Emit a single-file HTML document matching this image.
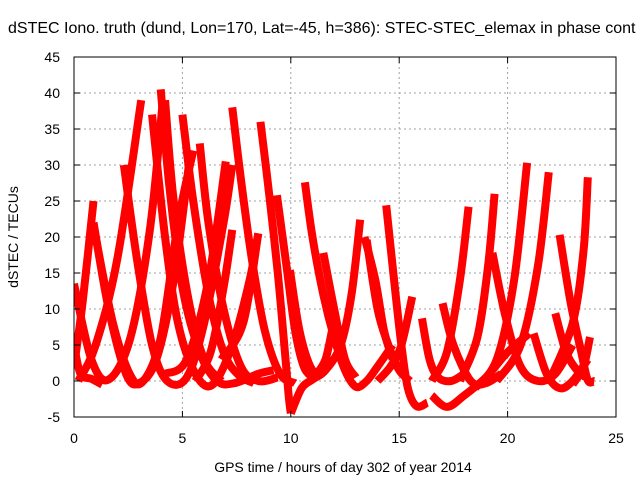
<!DOCTYPE html>
<html><head><meta charset="utf-8"><style>
html,body{margin:0;padding:0;background:#fff;}
svg{display:block;font-family:"Liberation Sans",sans-serif;}
</style></head><body>
<svg id="chart" width="640" height="480" viewBox="0 0 640 480">
<rect width="640" height="480" fill="#fff"/>
<text x="8" y="33" font-size="16" fill="#000">dSTEC Iono. truth (dund, Lon=170, Lat=-45, h=386): STEC-STEC_elemax in phase cont</text>
<g id="grid"></g>
<g id="series" clip-path="url(#clip)"></g>
<defs><clipPath id="clip"><rect x="74" y="57" width="542" height="360"/></clipPath></defs>
<rect x="74" y="57" width="542" height="360" fill="none" stroke="#000" stroke-width="1"/>
<g id="axes"></g>
<text x="343" y="472" font-size="14" text-anchor="middle">GPS time / hours of day 302 of year 2014</text>
<text transform="translate(18,237) rotate(-90)" font-size="14" text-anchor="middle">dSTEC  / TECUs</text>
</svg>
<script>
const xTicks=[0,5,10,15,20,25];
const yTicks=[-5,0,5,10,15,20,25,30,35,40,45];
const arcs=[
[[0,13.5],[0.8,3],[1.6,0.2],[2.6,6],[3.5,21],[4.1,39]],
[[0,5],[0.3,1],[0.8,0.3],[1.3,-0.5]],
[[0,2],[0.4,11],[0.9,25]],
[[0.9,22],[1.6,10],[2.4,1],[3.0,-0.3],[3.8,3],[4.6,14],[5.3,30]],
[[1.0,20],[1.8,8],[2.6,0.8],[3.2,0],[4.0,6],[4.8,22],[5.5,32]],
[[2.3,30],[2.9,17],[3.6,5],[4.3,0],[5.2,0.5],[6.0,8],[6.9,22],[7.3,30]],
[[0.2,0],[1,5],[2,17],[3.1,39]],
[[3.6,37],[4.2,20],[4.8,8],[5.6,1],[6.4,-0.5],[7.3,5],[8.1,14],[8.5,20.5]],
[[4.0,40.5],[4.4,27],[5.0,13],[5.8,4],[6.6,0],[7.4,-0.3],[8.5,1],[9.2,1.5]],
[[4.2,39],[4.6,25],[5.3,11],[6.0,3],[6.8,0]],
[[5.0,37],[5.5,25],[6.2,12],[6.9,4],[7.6,0.8],[8.3,-0.3]],
[[5.8,33],[6.2,22],[6.9,10],[7.7,2],[8.5,0],[9.4,0.5]],
[[4.2,1],[5.2,3],[6.2,14],[7.0,30.5]],
[[7.3,38],[7.7,28],[8.2,17],[8.8,7],[9.5,1],[10.2,-0.3]],
[[5.6,0],[6.3,4],[6.9,13],[7.3,21]],
[[8.6,36],[9.0,26],[9.4,15],[9.7,5],[9.9,-2],[10.0,-4.5]],
[[6.8,3],[7.8,8],[8.5,20.5]],
[[9.36,25.8],[9.8,16],[10.2,7],[10.6,2],[11,0.5]],
[[9.96,15.4],[10.4,7],[10.9,2],[11.4,0.5]],
[[10.65,27.6],[11.0,20],[11.5,12],[12,6],[12.5,1.5],[13,-0.8],[13.5,0],[14,2],[14.7,5]],
[[11.5,17.8],[12,10],[12.5,3],[13,0.5]],
[[10,-4.5],[10.5,-1],[11,0.2],[11.6,1.5],[12.3,5],[12.8,12],[13.2,22.4]],
[[11.2,1],[11.6,3],[11.9,7]],
[[13.5,19.6],[14,10],[14.5,5],[15,1.5],[15.5,0]],
[[13.4,20],[13.9,14],[14.3,7],[14.7,3]],
[[14.4,24.4],[14.8,13],[15.1,5],[15.4,-1],[15.8,-3.5],[16.3,-3]],
[[14,0],[14.6,2],[15.1,5],[15.6,11.7]],
[[16.05,8.7],[16.4,3],[16.8,0.5],[17.4,0],[18,1]],
[[17,10.8],[17.5,5],[18.3,0],[19,-0.3],[19.7,1]],
[[16.5,0],[17.2,4],[17.8,14],[18.2,24.2]],
[[16.5,-2],[17.2,-3.6],[18,-2],[19,0.5],[20,4],[21,6.6]],
[[17.8,0],[18.6,6],[19.1,16],[19.4,26]],
[[19.3,17.8],[19.9,9],[20.6,2],[21.4,0],[22.2,1],[23,5]],
[[18.5,-1],[19.5,3],[20.3,14],[20.9,30.3]],
[[19.5,0],[20.6,5],[21.4,16],[21.9,29]],
[[21.2,6.6],[21.8,1],[22.4,-1],[23,0],[23.7,3]],
[[22.4,20.3],[22.9,11],[23.4,4],[23.7,0.1],[24,0]],
[[22.2,9.4],[22.7,4],[23.2,1.5],[23.6,0.5]],
[[22,0.5],[23,8],[23.5,18],[23.7,28.3]],
[[23,-0.5],[23.5,2],[23.8,6.1]]
];
const NS='http://www.w3.org/2000/svg';
const X=t=>74+t*542/25;
const Y=v=>57+(45-v)*360/50;
const grid=document.getElementById('grid'),axes=document.getElementById('axes'),ser=document.getElementById('series');
function mk(tag,attrs,parent){const e=document.createElementNS(NS,tag);for(const k in attrs)e.setAttribute(k,attrs[k]);parent.appendChild(e);return e;}
xTicks.forEach(t=>{
  if(t>0&&t<25){const g=mk('line',{x1:X(t),x2:X(t),y1:57,y2:417,stroke:'#a0a0a0','stroke-dasharray':'2,3'},grid);
  
  }
  mk('line',{x1:X(t),x2:X(t),y1:417,y2:411,stroke:'#000'},axes);
  mk('line',{x1:X(t),x2:X(t),y1:57,y2:63,stroke:'#000'},axes);
  const l=mk('text',{x:X(t),y:443,'font-size':14,'text-anchor':'middle'},axes);
  l.textContent=t;
  
  
});
yTicks.forEach(v=>{
  if(v>-5&&v<45){const g=mk('line',{x1:74,x2:616,y1:Y(v),y2:Y(v),stroke:'#a0a0a0','stroke-dasharray':'2,3'},grid);
  
  }
  mk('line',{x1:74,x2:80,y1:Y(v),y2:Y(v),stroke:'#000'},axes);
  mk('line',{x1:610,x2:616,y1:Y(v),y2:Y(v),stroke:'#000'},axes);
  const l=mk('text',{x:60,y:Y(v)+5,'font-size':14,'text-anchor':'end'},axes);
  l.textContent=v;
  
  
});
arcs.forEach((a,i)=>{
  const p=a.map(d=>[X(d[0]),Y(d[1])]);
  let d='M'+p[0][0]+','+p[0][1];
  for(let k=0;k<p.length-1;k++){
    const p0=p[k-1]||p[k],p1=p[k],p2=p[k+1],p3=p[k+2]||p2;
    d+=' C'+(p1[0]+(p2[0]-p0[0])/6)+','+(p1[1]+(p2[1]-p0[1])/6)+' '+(p2[0]-(p3[0]-p1[0])/6)+','+(p2[1]-(p3[1]-p1[1])/6)+' '+p2[0]+','+p2[1];
  }
  const e=mk('path',{d:d,fill:'none',stroke:'#ff0000','stroke-width':8,'stroke-linejoin':'round','stroke-linecap':'butt'},ser);
  
  
});
</script>
</body></html>
